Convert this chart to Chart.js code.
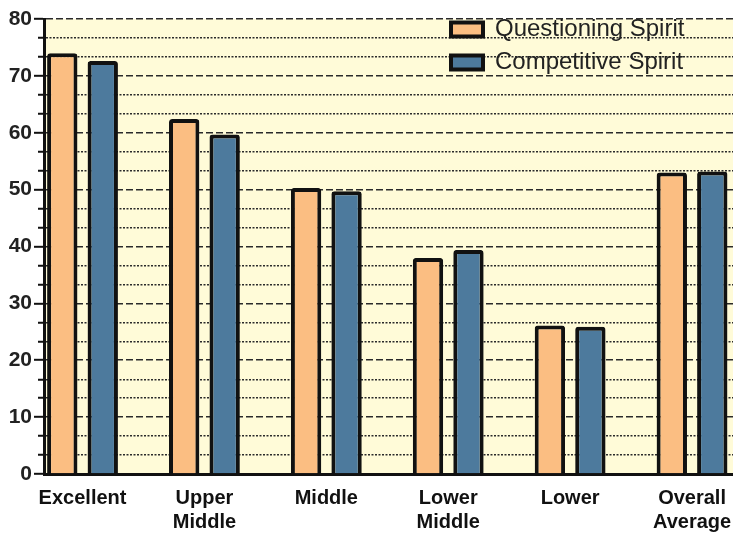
<!DOCTYPE html>
<html>
<head>
<meta charset="utf-8">
<script src="https://cdn.jsdelivr.net/npm/chart.js@4/dist/chart.umd.min.js"></script>
<style>
  html, body { margin: 0; padding: 0; background: #fff; }
  #wrap { width: 733px; height: 534px; position: relative; }
</style>
</head>
<body>
<div id="wrap"><canvas id="chart1"></canvas></div>
<script>
// values
const categories = ['Excellent', 'Upper Middle', 'Middle', 'Lower Middle', 'Lower', 'Overall Average'];
const questioning = [74.0, 62.4, 50.3, 38.0, 26.1, 53.0];
const competitive = [72.6, 59.7, 49.7, 39.4, 25.9, 53.2];
const yMin = 0, yMax = 80;
const majorStep = 10;
const minorStep = 10 / 3;

const isMajor = v => Math.abs(v / majorStep - Math.round(v / majorStep)) < 1e-6;

// yellow plot area
const plotBg = {
  id: 'plotBg',
  beforeDraw(chart) {
    const a = chart.chartArea, c = chart.ctx;
    c.save();
    c.fillStyle = '#FFFBD8';
    c.fillRect(a.left, a.top, a.right - a.left, a.bottom - a.top);
    c.restore();
  }
};

// put the legend in the top right corner of the plot
const legendSpot = {
  id: 'legendSpot',
  afterLayout(chart) {
    chart.legend.left = 442;
    chart.legend.top = 8.5;
  }
};

const ctx = document.getElementById('chart1').getContext('2d');
new Chart(ctx, {
  type: 'bar',
  data: {
    datasets: [{
      label: 'Questioning Spirit',
      data: questioning.map((v, i) => ({x: i, y: v})),
      backgroundColor: '#FBBE82',
      borderColor: '#111',
      borderWidth: 4,
      borderRadius: 3
    }, {
      label: 'Competitive Spirit',
      data: competitive.map((v, i) => ({x: i, y: v})),
      backgroundColor: '#4D7A9D',
      borderColor: '#111',
      borderWidth: 4,
      borderRadius: 3
    }]
  },
  options: {
    responsive: true,
    maintainAspectRatio: false,
    animation: false,
    categoryPercentage: 0.664,
    barPercentage: 0.75,
    layout: {padding: {top: 19, left: 0, right: 0, bottom: 0}},
    plugins: {
      tooltip: {enabled: false},
      legend: {
        position: 'chartArea',
        align: 'start',
        labels: {
          boxWidth: 32,
          boxHeight: 14,
          padding: 9,
          color: '#222',
          font: {family: '"Liberation Sans", Arial, sans-serif', size: 24}
        }
      }
    },
    scales: {
      x: {
        type: 'linear',
        offset: false,
        min: -0.316,
        max: 5.336,
        afterFit(s) { s.height = 60; s.paddingLeft = 0; s.paddingRight = 0; },
        grid: {display: false, drawTicks: false, offset: false},
        border: {display: true, color: '#111', width: 3},
        ticks: {
          stepSize: 1,
          includeBounds: false,
          autoSkip: false,
          maxRotation: 0,
          padding: 12,
          color: '#111',
          font: {family: '"Liberation Sans", Arial, sans-serif', size: 20, weight: 'bold', lineHeight: 1.2},
          callback: v => Number.isInteger(v) && categories[v] ? categories[v].split(' ') : ''
        }
      },
      y: {
        min: yMin,
        max: yMax,
        afterFit(s) { s.width = 44; },
        border: {
          display: true, color: '#111', width: 3,
          dash: c => (c.tick && isMajor(c.tick.value)) ? [7, 3] : [2, 1.5]
        },
        grid: {
          color: '#2a2a2a',
          lineWidth: c => (c.tick && isMajor(c.tick.value)) ? 1.6 : 1.4,
          tickLength: 10,
          tickColor: '#111',
          tickWidth: 2,
          tickBorderDash: c => (c.tick && isMajor(c.tick.value)) ? [] : [0, 4, 20]
        },
        ticks: {
          stepSize: minorStep,
          autoSkip: false,
          padding: 2,
          color: '#222',
          font: {family: '"Liberation Sans", Arial, sans-serif', size: 21, weight: 'bold'},
          callback: v => isMajor(v) ? String(Math.round(v)) : ''
        }
      }
    }
  },
  plugins: [plotBg, legendSpot]
});
</script>
</body>
</html>
